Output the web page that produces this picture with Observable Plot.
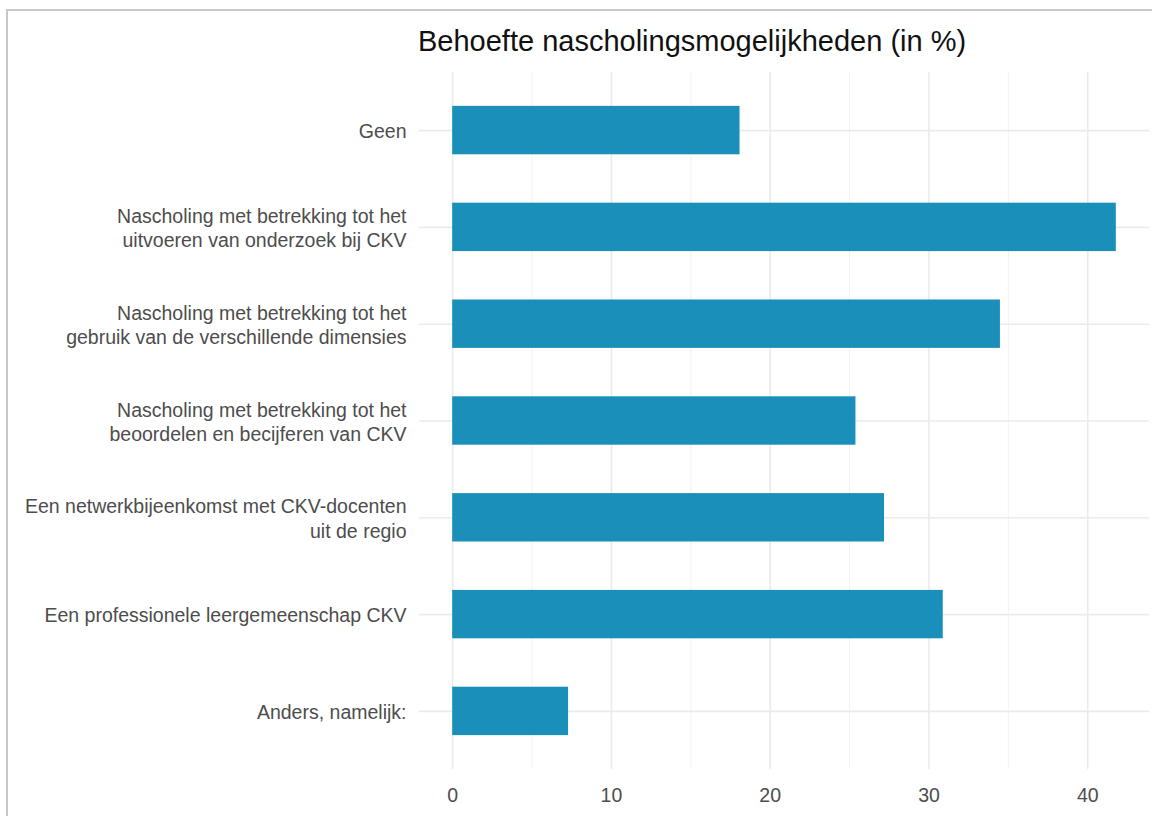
<!DOCTYPE html>
<html><head><meta charset="utf-8">
<script src="https://cdn.jsdelivr.net/npm/d3@7"></script>
<script src="https://cdn.jsdelivr.net/npm/@observablehq/plot@0.6"></script>
<style>
body{margin:0;background:#fff;}
#wrap{position:relative;width:1152px;height:816px;overflow:hidden;background:#fff;}
#frame{position:absolute;left:6px;top:9px;width:1200px;height:900px;border-left:2px solid #c8c8c8;border-top:2px solid #c8c8c8;}
#chart{position:absolute;left:0;top:0;}
#title{position:absolute;left:418px;top:24px;font-family:"Liberation Sans",Arial,sans-serif;font-size:29px;color:#111;white-space:nowrap;line-height:1.2;}
</style></head><body>
<div id="wrap"><div id="frame"></div><div id="chart"></div><div id="title">Behoefte nascholingsmogelijkheden (in %)</div></div>
<script>
const categories = [
  "Geen",
  "Nascholing met betrekking tot het\nuitvoeren van onderzoek bij CKV",
  "Nascholing met betrekking tot het\ngebruik van de verschillende dimensies",
  "Nascholing met betrekking tot het\nbeoordelen en becijferen van CKV",
  "Een netwerkbijeenkomst met CKV-docenten\nuit de regio",
  "Een professionele leergemeenschap CKV",
  "Anders, namelijk:"
];
const values = [18.1, 41.8, 34.5, 25.4, 27.2, 30.9, 7.3];
const xTicks = [0, 10, 20, 30, 40];
const minorTicks = [5, 15, 25, 35];

const data = categories.map((c, i) => ({category: c, value: values[i]}));

const chart = Plot.plot({
  width: 1152,
  height: 816,
  marginLeft: 419,
  marginRight: 3,
  marginTop: 72,
  marginBottom: 47,
  style: {fontFamily: "'Liberation Sans', Arial, sans-serif", background: "transparent"},
  x: {domain: [-2.09, 43.89], label: null},
  y: {domain: categories, paddingInner: 0.5, paddingOuter: 0.35, round: false, label: null},
  marks: [
    Plot.ruleX(minorTicks, {stroke: "#f0f0f0", strokeWidth: 0.9}),
    Plot.ruleX(xTicks, {stroke: "#ebebeb", strokeWidth: 1.6}),
    Plot.gridY({stroke: "#ebebeb", strokeOpacity: 1, strokeWidth: 1.6}),
    Plot.barX(data, {x: "value", y: "category", fill: "#1a8fba"}),
    Plot.axisX({ticks: xTicks, tickSize: 0, tickPadding: 19, fontSize: 19.5, fill: "#4d4d4d", label: null}),
    Plot.axisY({tickSize: 0, tickPadding: 13, fontSize: 19.5, fill: "#4d4d4d", lineHeight: 1.25, label: null})
  ]
});
document.getElementById("chart").appendChild(chart);
</script>
</body></html>
